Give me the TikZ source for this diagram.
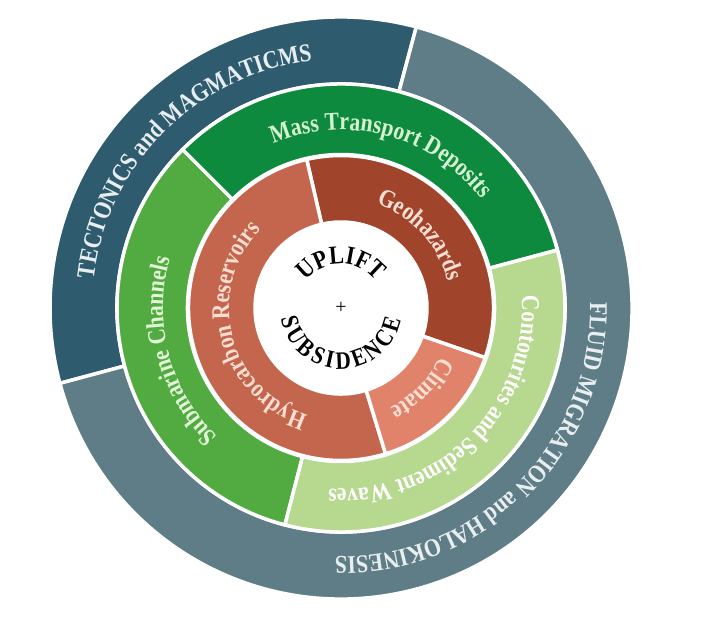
\documentclass[tikz,border=0pt]{standalone}
\usepackage{fontspec}
\setmainfont{Liberation Serif}
\newfontfamily\ringfont{Liberation Serif}[FakeStretch=0.85]
\usepackage{tikz}
\usetikzlibrary{decorations.text}

% one piece of a ring: colour, start angle, end angle, inner radius, outer radius
\newcommand{\ringseg}[5]{%
  \filldraw[seg, fill=#1] (#2:#5) arc[start angle=#2, end angle=#3, radius=#5]
    -- (#3:#4) arc[start angle=#3, end angle=#2, radius=#4] -- cycle;}
% text on an arc: start angle, end angle, radius, size, colour, text
\newcommand{\arclabel}[6]{%
  \path[decorate, decoration={text along path, text align=center,
    text={|\ringfont\fontsize{#4}{#4}\selectfont\bfseries\color{#5}|#6}}]
    (#1:#3) arc[start angle=#1, end angle=#2, radius=#3];}

\tikzset{seg/.style={draw=white, line width=3.5pt}}

\begin{document}
\begin{tikzpicture}
%
\useasboundingbox (-341pt,-314pt) rectangle (360pt,308pt);
\fill[white] (-341pt,-314pt) rectangle (360pt,308pt);
%
\definecolor{ctec}{RGB}{47,91,110}
\definecolor{cflu}{RGB}{95,125,134}
\definecolor{cmtd}{RGB}{13,138,62}
\definecolor{csub}{RGB}{82,171,64}
\definecolor{ccon}{RGB}{183,216,143}
\definecolor{chyd}{RGB}{196,102,78}
\definecolor{cgeo}{RGB}{160,69,43}
\definecolor{ccli}{RGB}{224,131,106}
\definecolor{ltout}{RGB}{232,238,240}
\definecolor{ltmtd}{RGB}{214,240,210}
\definecolor{ltsub}{RGB}{225,245,215}
\definecolor{ltred}{RGB}{250,222,210}
%
\ringseg{ctec}{75}{195}{224pt}{291pt}
\ringseg{cflu}{195}{435}{224pt}{291pt}
%
\ringseg{cmtd}{15}{135}{153.5pt}{224pt}
\ringseg{csub}{135}{255.5}{153.5pt}{224pt}
\ringseg{ccon}{255.5}{375}{153.5pt}{224pt}
%
\ringseg{cgeo}{-19}{103}{86pt}{152.5pt}
\ringseg{chyd}{103}{287}{86pt}{152.5pt}
\ringseg{ccli}{287}{341}{86pt}{152.5pt}
%
\arclabel{215}{55}{249pt}{25.5}{ltout}{TECTONICS and MAGMATICMS}
\arclabel{40}{-130}{249pt}{25.5}{ltout}{FLUID MIGRATION and HALOKINESIS}
%
\arclabel{150}{0}{178pt}{25.5}{ltmtd}{Mass Transport Deposits}
\arclabel{270}{120}{178pt}{25.5}{ltsub}{Submarine Channels}
\arclabel{40}{-130}{181pt}{25.5}{white}{Contourites and Sediment Waves}
%
\arclabel{270}{118}{112pt}{25.5}{ltred}{Hydrocarbon Reservoirs}
\arclabel{100}{-15}{110pt}{25.5}{ltred}{Geohazards}
\arclabel{10}{-100}{111pt}{25.5}{ltred}{Climate}
%
\arclabel{160}{20}{44pt}{26}{black}{UPLIFT}
\path[decorate, decoration={text along path, text align=fit to path,
  text={|\ringfont\fontsize{25}{25}\selectfont\bfseries\color{black}|SUBSIDENCE}}]
  (190:61pt) arc[start angle=190, end angle=349, radius=61pt];
\node[font=\fontsize{20}{20}\selectfont] (plus) at (0,0) {+};
%
\end{tikzpicture}
\end{document}
